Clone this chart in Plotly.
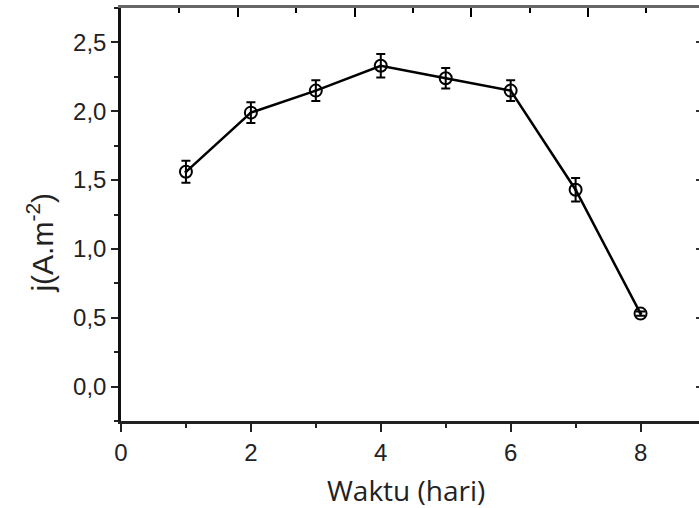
import plotly.graph_objects as go

days = [1, 2, 3, 4, 5, 6, 7, 8]
j_values = [1.56, 1.99, 2.15, 2.33, 2.24, 2.15, 1.43, 0.53]
j_errors = [0.08, 0.075, 0.075, 0.085, 0.075, 0.075, 0.085, 0.015]

x_title = "Waktu (hari)"
y_title = "j(A.m<sup>-2</sup>)"

fig = go.Figure()
fig.add_trace(go.Scatter(
    x=days, y=j_values,
    mode="lines+markers",
    line=dict(color="black", width=2.5),
    marker=dict(symbol="circle-open-dot", size=12, color="black",
                line=dict(width=2, color="black")),
    error_y=dict(type="data", array=j_errors, visible=True,
                 color="black", thickness=2, width=4.5),
    showlegend=False,
))
# invisible trace to anchor the mirrored top/right axes
fig.add_trace(go.Scatter(x=[0.5], y=[1.0], xaxis="x2", yaxis="y2",
                         mode="markers", marker=dict(opacity=0),
                         showlegend=False, hoverinfo="skip"))

tick_font = dict(family="Liberation Sans, Arial", size=24, color="#222")

fig.update_layout(
    width=699, height=508,
    margin=dict(l=121, r=0, t=8, b=87, autoexpand=False),
    paper_bgcolor="white", plot_bgcolor="white",
    separators=",.",
    xaxis=dict(
        range=[0, 8.9], dtick=2, tick0=0,
        showgrid=False, zeroline=False,
        showline=True, linecolor="#222", linewidth=2.5,
        ticks="outside", ticklen=8, tickwidth=2, tickcolor="#222",
        minor=dict(dtick=1, ticks="outside", ticklen=4, tickwidth=2, tickcolor="#222"),
        tickfont=tick_font,
    ),
    yaxis=dict(
        range=[-0.25, 2.75], dtick=0.5, tick0=0, tickformat=".1f",
        showgrid=False, zeroline=False,
        showline=True, linecolor="#111", linewidth=2.5,
        ticks="outside", ticklen=7, tickwidth=2, tickcolor="#222",
        minor=dict(dtick=0.25, ticks="outside", ticklen=4, tickwidth=2, tickcolor="#222"),
        tickfont=tick_font,
    ),
    xaxis2=dict(
        overlaying="x", side="top", anchor="y2",
        range=[0, 9.9], dtick=2, tick0=0,
        showgrid=False, zeroline=False,
        showline=True, linecolor="#666", linewidth=2.5,
        ticks="inside", ticklen=9, tickwidth=2, tickcolor="#000",
        minor=dict(dtick=1, ticks="inside", ticklen=5, tickwidth=2, tickcolor="#000"),
        showticklabels=False, layer="above traces",
    ),
    yaxis2=dict(
        overlaying="y", side="right", anchor="x2",
        range=[-0.25, 2.75], dtick=0.5, tick0=0,
        showgrid=False, zeroline=False, showline=False,
        ticks="inside", ticklen=3, tickwidth=2, tickcolor="#333",
        showticklabels=False,
    ),
    annotations=[
        dict(text=x_title, xref="paper", yref="paper", x=0.493, y=0,
             xanchor="center", yanchor="middle", yshift=-69, showarrow=False,
             font=dict(family="Open Sans", size=28, color="#222")),
        dict(text=y_title, xref="paper", yref="paper", x=0, y=0.432,
             xanchor="center", yanchor="middle", xshift=-81, textangle=-90,
             showarrow=False,
             font=dict(family="Liberation Sans, Arial", size=30, color="#222")),
    ],
)

fig.write_html("out.html",
               config={"displayModeBar": False},
               post_script="document.body.style.margin='0';document.body.style.overflow='hidden';")
